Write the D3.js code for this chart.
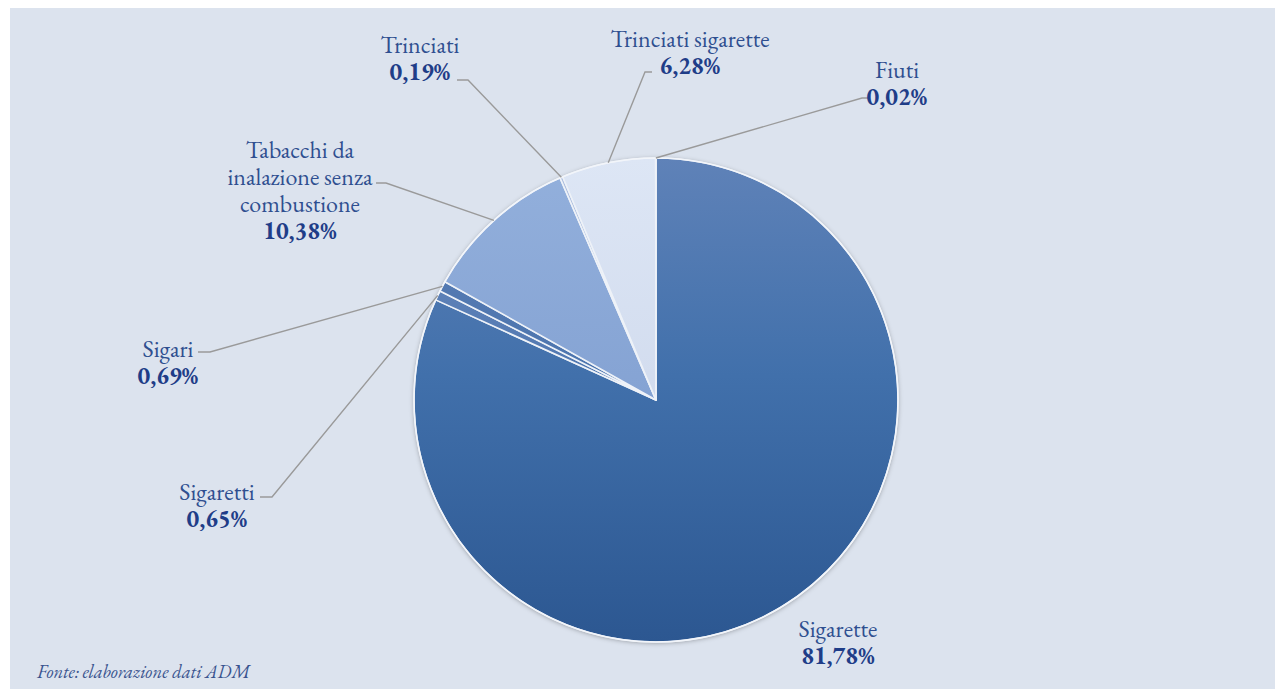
<!DOCTYPE html>
<html><head><meta charset="utf-8">
<script src="https://cdn.jsdelivr.net/npm/d3@7"></script>
<style>html,body{margin:0;padding:0;background:#fff;}svg{display:block;}
.lbl{font-family:"EB Garamond","Cormorant Garamond","Liberation Serif","Tinos","Times New Roman","Nimbus Roman","FreeSerif","DejaVu Serif","Noto Serif",Georgia,serif;}</style>
</head><body>
<svg id="c" width="1279" height="689"></svg>
<script>
// ---- data ----
const categories = ["Sigarette","Sigaretti","Sigari","Tabacchi da inalazione senza combustione","Trinciati","Trinciati sigarette","Fiuti"];
const values = [81.78, 0.65, 0.69, 10.38, 0.19, 6.28, 0.02];
const valueLabels = ["81,78%","0,65%","0,69%","10,38%","0,19%","6,28%","0,02%"];
const nameLines = [["Sigarette"],["Sigaretti"],["Sigari"],["Tabacchi da","inalazione senza","combustione"],["Trinciati"],["Trinciati sigarette"],["Fiuti"]];
const source = "Fonte: elaborazione dati ADM";

// ---- layout / style ----
const cx = 656, cy = 400, R = 242;
const colorsTop = ["#5f82b8","#6f8fc2","#5d7fb6","#93b0dc","#aebfdf","#dde6f5","#6f8fc2"];
const colorsMid = ["#4170ab","#5077b0","#4c75ae","#86a4d4","#a5b8da","#d3ddef","#5077b0"];
const colorsBot = ["#2c5791","#3f659f","#3c639d","#7695c8","#9eb2d6","#c6d3ea","#3f659f"];
const labelLayout = [
  {x:838, y:637, elbow:null},
  {x:217, y:500, elbow:[272,497], end:260},
  {x:168, y:357, elbow:[210,352], end:198},
  {x:300, y:158, elbow:[386,183], end:376},
  {x:420, y:53,  elbow:[468,80], end:457},
  {x:690, y:47,  elbow:[645,72], end:652},
  {x:897, y:78,  elbow:[862,98], end:868}
];
const lineH = 27;

const svg = d3.select("#c");
svg.append("rect").attr("x",10).attr("y",8).attr("width",1265).attr("height",681).attr("fill","#dce3ee");

const defs = svg.append("defs");
const f = defs.append("filter").attr("id","sh").attr("x","-20%").attr("y","-20%").attr("width","140%").attr("height","140%");
f.append("feDropShadow").attr("dx",0).attr("dy",1).attr("stdDeviation",2.5).attr("flood-color","#000").attr("flood-opacity",0.35);

categories.forEach((c,i)=>{
  const g = defs.append("linearGradient").attr("id","g"+i)
    .attr("gradientUnits","userSpaceOnUse")
    .attr("x1",0).attr("y1",-R).attr("x2",0).attr("y2",R);
  g.append("stop").attr("offset","0%").attr("stop-color",colorsTop[i]);
  g.append("stop").attr("offset","45%").attr("stop-color",colorsMid[i]);
  g.append("stop").attr("offset","100%").attr("stop-color",colorsBot[i]);
});

const pie = d3.pie().sort(null).value(d=>d)(values);
const arc = d3.arc().innerRadius(0).outerRadius(R);

const gp = svg.append("g").attr("transform",`translate(${cx},${cy})`);
gp.append("circle").attr("r",R).attr("fill","#3f6aa3").attr("filter","url(#sh)");
gp.selectAll("path").data(pie).join("path")
  .attr("d",arc)
  .attr("fill",(d,i)=>`url(#g${i})`)
  .attr("stroke","#eef2f8").attr("stroke-width",1.6).attr("stroke-linejoin","round");
gp.append("circle").attr("r",R).attr("fill","none").attr("stroke","#f2f5fa").attr("stroke-width",1.5);

// leader lines
const lines = svg.append("g");
pie.forEach((d,i)=>{
  const L = labelLayout[i];
  if(!L.elbow) return;
  const a = (d.startAngle+d.endAngle)/2;
  const sx = cx + R*Math.sin(a), sy = cy - R*Math.cos(a);
  lines.append("polyline")
    .attr("points",`${sx},${sy} ${L.elbow[0]},${L.elbow[1]} ${L.end},${L.elbow[1]}`)
    .attr("fill","none").attr("stroke","#9a9a9a").attr("stroke-width",1.4);
});

// labels
const tl = svg.append("g").attr("class","lbl").attr("font-size",24).attr("text-anchor","middle");
categories.forEach((c,i)=>{
  const L = labelLayout[i];
  const t = tl.append("text").attr("x",L.x).attr("y",L.y);
  nameLines[i].forEach((ln,k)=>{
    t.append("tspan").attr("x",L.x).attr("y",L.y+k*lineH).attr("fill","#2f4f90").text(ln);
  });
  t.append("tspan").attr("x",L.x).attr("y",L.y+nameLines[i].length*lineH).attr("fill","#1f3d88").attr("font-weight","bold").text(valueLabels[i]);
});

svg.append("text").attr("class","lbl").attr("x",37).attr("y",678).attr("font-style","italic").attr("font-size",18.5).attr("fill","#3a548f").text(source);
</script>
</body></html>
